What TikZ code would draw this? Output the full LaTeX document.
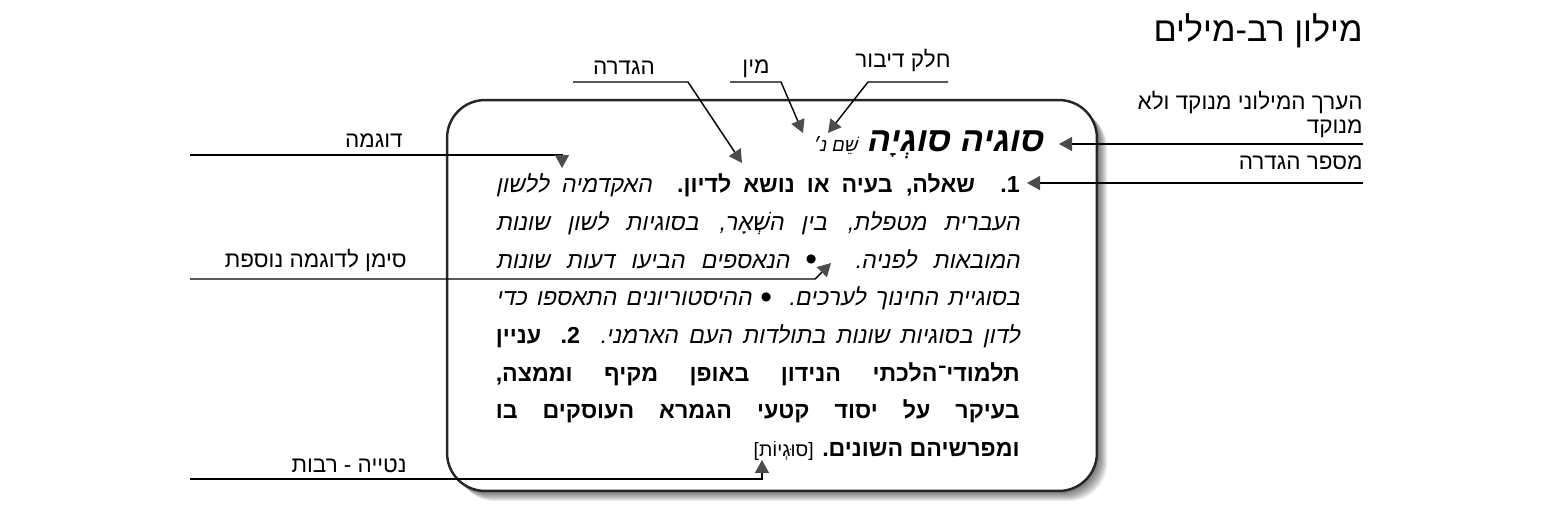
\documentclass[tikz,border=0pt]{standalone}
\usepackage{fontspec}
\setmainfont{Liberation Sans}[Script=Hebrew,
	ItalicFont = Liberation Sans, ItalicFeatures = {FakeSlant = 0.2},
	BoldItalicFont = Liberation Sans Bold, BoldItalicFeatures = {FakeSlant = 0.2}]
\TeXXeTstate=1
\usetikzlibrary{arrows.meta}

\newcommand\bodyline[1]{\hbox to 10.48cm{\beginR #1\endR}}
\newcommand\exbullet{\hbox{\raisebox{-1.5pt}{\upshape\fontsize{19}{19}\selectfont •}}}

\begin{document}
\begin{tikzpicture}[x = 0.02cm, y = -0.02cm,
	> = {Triangle[length = 2.6mm, width = 2.8mm, color = black!70]},
	tagtext/.style = {inner sep = 0, anchor = base east, font = \fontsize{12.8}{15}\selectfont},
	pointer/.style = {->, line width = 0.8pt},
	textline/.style = {inner sep = 0, anchor = base east, font = \fontsize{13.2}{15}\selectfont}]

	\useasboundingbox (0, 0) rectangle (1553, 527);

	% Title
	
	\node [inner sep = 0, anchor = base east, font = \fontsize{19.5}{22}\selectfont] (title) at (1363, 42) {\beginR מילון רב-מילים\endR};
	
	% Box + shadow
	
	\foreach \i in {1, ..., 10}
		\fill [black, opacity = 0.07, rounded corners = 0.76cm] (447 + \i, 100 + \i) rectangle (1097 + \i, 491 + \i);
	
	\node [draw = black!85, line width = 1.4pt, fill = white, rounded corners = 0.76cm,
		minimum width = 13cm, minimum height = 7.82cm] (entry) at (772, 295.5) {};
	
	% Entry text
	
	\node [inner sep = 0, anchor = base east] (ln1) at (1043, 152) {\beginR{\fontsize{19.5}{22}\selectfont\bfseries\itshape סוגיה סוגְיָה}\hspace{0.5em}{\fontsize{10.5}{12}\selectfont\itshape שֵׁם נ׳}\endR};
	\node [textline] (ln2) at (1020, 193) {\bodyline{{\bfseries 1. שאלה, בעיה או נושא לדיון.} {\itshape האקדמיה ללשון}}};
	\node [textline] (ln3) at (1020, 230.6) {\bodyline{\itshape העברית מטפלת, בין השְׁאָר, בסוגיות לשון שונות}};
	\node [textline] (ln4) at (1020, 268.2) {\bodyline{\itshape המובאות לפניה. \exbullet{} הנאספים הביעו דעות שונות}};
	\node [textline] (ln5) at (1020, 305.8) {\bodyline{\itshape בסוגיית החינוך לערכים. \exbullet{} ההיסטוריונים התאספו כדי}};
	\node [textline] (ln6) at (1020, 343.4) {\bodyline{\itshape לדון בסוגיות שונות בתולדות העם הארמני. {\bfseries\upshape 2. עניין}}};
	\node [textline] (ln7) at (1020, 381) {\bodyline{\bfseries תלמודי־הלכתי הנידון באופן מקיף וממצה,}};
	\node [textline] (ln8) at (1020, 418.6) {\bodyline{\bfseries בעיקר על יסוד קטעי הגמרא העוסקים בו}};
	\node [textline] (ln9) at (1020, 456.2) {\beginR{\bfseries ומפרשיהם השונים.} {\fontsize{11}{12}\selectfont [סוּגְיוֹת]}\endR};
	
	% Tags on the right
	
	\node [tagtext] (erekhA) at (1363, 110) {\beginR הערך המילוני מנוקד ולא\endR};
	\node [tagtext] (erekhB) at (1363, 133) {\beginR מנוקד\endR};
	\node [tagtext] (mispar) at (1363, 170) {\beginR מספר הגדרה\endR};
	
	\coordinate (erekhS) at (1363, 144);
	\coordinate (erekhT) at (1059, 144);
	\coordinate (misparS) at (1363, 183);
	\coordinate (misparT) at (1027, 183);
	
	\draw [pointer] (erekhS) -- (erekhT);
	\draw [pointer] (misparS) -- (misparT);
	
	% Tags on the left
	
	\node [tagtext] (dugma) at (403, 148) {\beginR דוגמה\endR};
	\node [tagtext] (siman) at (407, 267) {\beginR סימן לדוגמה נוספת\endR};
	\node [tagtext] (netiya) at (407, 472) {\beginR נטייה - רבות\endR};
	
	\coordinate (dugmaS) at (190, 155);
	\coordinate (dugmaT) at (562, 168);
	\coordinate (simanS) at (190, 279);
	\coordinate (simanB) at (815, 279);
	\coordinate (simanT) at (831, 263);
	\coordinate (netiyaS) at (190, 479);
	\coordinate (netiyaT) at (762, 460);
	
	\draw [pointer] (dugmaS) -| (dugmaT);
	\draw [pointer] (simanS) -- (simanB) -- (simanT);
	\draw [pointer] (netiyaS) -| (netiyaT);
	
	% Tags on top
	
	\node [tagtext, anchor = base] (hagdara) at (624, 75) {\beginR הגדרה\endR};
	\node [tagtext, anchor = base] (min) at (756, 74) {\beginR מין\endR};
	\node [tagtext, anchor = base] (chelek) at (903, 68) {\beginR חלק דיבור\endR};
	
	\coordinate (hagdaraS) at (573, 82);
	\coordinate (hagdaraB) at (688, 82);
	\coordinate (hagdaraT) at (742, 163);
	\coordinate (minS) at (730, 82);
	\coordinate (minB) at (781, 82);
	\coordinate (minT) at (803, 133);
	\coordinate (chelekS) at (948, 82);
	\coordinate (chelekB) at (868, 82);
	\coordinate (chelekT) at (828, 133);
	
	\draw [pointer] (hagdaraS) -- (hagdaraB) -- (hagdaraT);
	\draw [pointer] (minS) -- (minB) -- (minT);
	\draw [pointer] (chelekS) -- (chelekB) -- (chelekT);

\end{tikzpicture}
\end{document}
